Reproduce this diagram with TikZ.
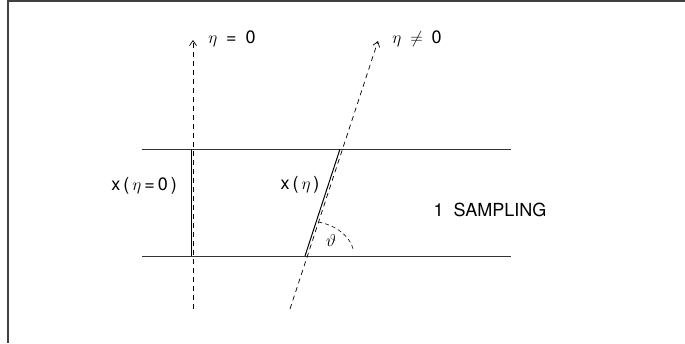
\documentclass[tikz,border=0pt]{standalone}
\usepackage{fontspec}
\setmainfont{TeX Gyre Heros}
\usetikzlibrary{arrows.meta, positioning}

\begin{document}
\begin{tikzpicture}[
  x=1pt, y=-1pt,
  font=\fontsize{18}{21}\selectfont,
  frame/.style={draw=black!75, line width=1.4pt},
  plate/.style={draw=black!80, line width=0.9pt},
  track/.style={draw, line width=1pt},
  axis/.style={draw, line width=0.7pt, dash pattern=on 5pt off 4pt,
               -{Straight Barb[length=5pt, width=7pt]}},
  arcl/.style={draw, line width=0.6pt, dash pattern=on 4pt off 3pt},
  lbl/.style={inner sep=1pt}
]
\useasboundingbox (0,0) rectangle (685,343);
\draw[frame] (685,1) -- (8,1) -- (8,343);

% layer boundaries
\coordinate (tl) at (142,149);
\coordinate (tr) at (511,149);
\coordinate (bl) at (142,256);
\coordinate (br) at (511,256);
\draw[plate] (tl) -- (tr);
\draw[plate] (bl) -- (br);

% normal incidence
\coordinate (n0) at (193,309);
\coordinate (n1) at (193,40);
\coordinate (nb) at (191,256);
\coordinate (nt) at (191,149);
\draw[axis] (n0) -- (n1);
\draw[track] (nb) -- (nt);

% inclined incidence
\coordinate (s0) at (290,309);
\coordinate (s1) at (378,41);
\coordinate (sb) at (305,256);
\coordinate (st) at (340,149);
\draw[axis] (s0) -- (s1);
\draw[track] (sb) -- (st);

% angle
\draw[arcl] plot[domain=-76:-10, samples=25] ({307+47*cos(\x)}, {256+35*sin(\x)});

% labels
\node[lbl] (eta0)   at (232,39)  {$\eta$\enspace=\enspace0};
\node[lbl] (etanz)  at (417,39)  {$\eta$\enspace$\neq$\enspace0};
\node[lbl, anchor=east] (xnorm) at (178,186) {x\,(\,$\eta$\,=\,0\,)};
\node[lbl] (xincl)  at (300,185) {x\,(\,$\eta$\,)};
\node[lbl] (theta)  at (331,240) {$\vartheta$};
\node[lbl] (samp)   at (490,210) {1\ \ SAMPLING};
\end{tikzpicture}
\end{document}
